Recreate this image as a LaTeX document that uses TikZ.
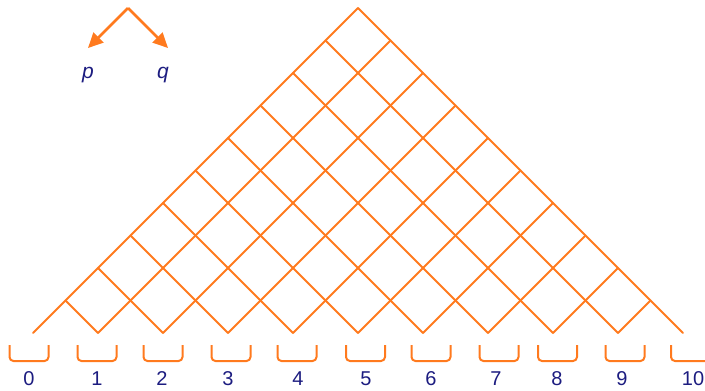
\documentclass[tikz,border=0pt]{standalone}
\usepackage{fontspec}
\setmainfont{Liberation Sans}
\usetikzlibrary{arrows.meta}
\definecolor{lat}{RGB}{255,122,30}
\definecolor{ink}{RGB}{28,28,128}
\tikzset{
  latline/.style={draw=lat, line width=2pt, line cap=round},
  binbox/.style={draw=lat, line width=2pt, rounded corners=4pt},
  numlabel/.style={text=ink, font=\fontsize{20}{24}\selectfont, inner sep=0pt},
  arr/.style={draw=lat, line width=2.5pt, -{Triangle[length=15pt,width=14pt]}}
}
\begin{document}
\begin{tikzpicture}[x=1pt,y=-1pt]
\useasboundingbox (0,0) rectangle (705,391);
% lattice
\def\s{32.5}
\foreach \i in {0,...,9}{
  \draw[latline] ({358-\s*\i},{8+\s*\i}) -- ({358-\s*\i+\s*(10-\i)},333);
  \draw[latline] ({358+\s*\i},{8+\s*\i}) -- ({358+\s*\i-\s*(10-\i)},333);
}
% arrows
\coordinate (top) at (128,8);
\coordinate (pend) at (88,48);
\coordinate (qend) at (168,48);
\draw[arr] (top) -- (pend);
\draw[arr] (top) -- (qend);
\node[numlabel, font=\fontsize{21}{24}\selectfont\itshape] (p) at (88,75) {p};
\node[numlabel, font=\fontsize{21}{24}\selectfont\itshape] (q) at (163,75) {q};
% bins
\foreach \n/\bx/\lx in {0/29/29, 1/97/97, 2/163/162, 3/231/228, 4/297/298, 5/365.5/366, 6/431/431, 7/499/496, 8/557.5/557, 9/625/622, 10/690.5/693}{
  \draw[binbox] ({\bx-19.5},345) -- ({\bx-19.5},361) -- ({\bx+19.5},361) -- ({\bx+19.5},345);
  \node[numlabel] (lab\n) at (\lx,379) {\n};
}
\end{tikzpicture}
\end{document}
